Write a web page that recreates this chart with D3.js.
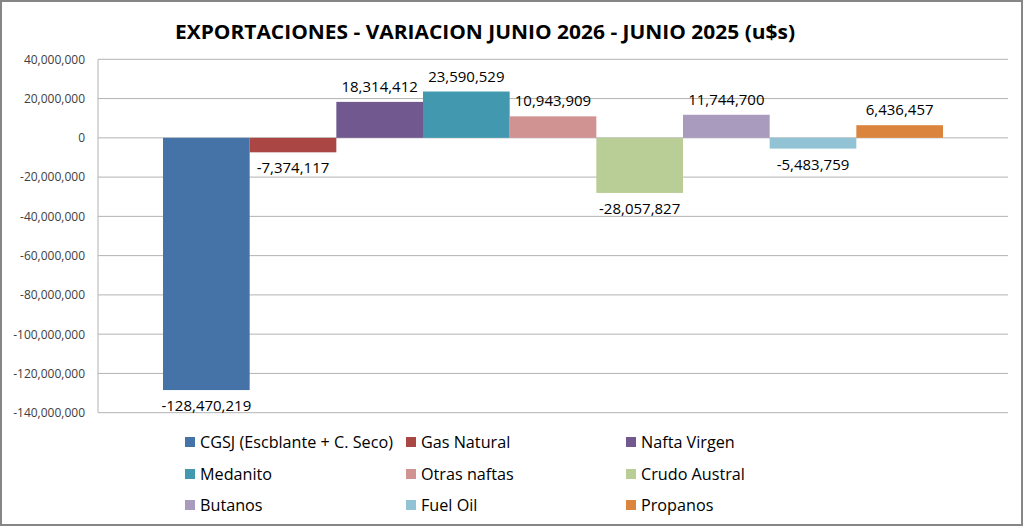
<!DOCTYPE html>
<html>
<head>
<meta charset="utf-8">
<script src="https://cdn.jsdelivr.net/npm/d3@7"></script>
<style>
  body { margin: 0; background: #fff; }
  text { font-family: "Open Sans", sans-serif; }
</style>
</head>
<body>
<div id="chart"></div>
<script>
const categories = ['CGSJ (Escblante + C. Seco)', 'Gas Natural', 'Nafta Virgen', 'Medanito',
  'Otras naftas', 'Crudo Austral', 'Butanos', 'Fuel Oil', 'Propanos'];
const values = [-128470219, -7374117, 18314412, 23590529, 10943909, -28057827, 11744700, -5483759, 6436457];
const colors = ['#4572A7', '#AA4643', '#71588F', '#4198AF', '#D19392', '#B9CD96', '#A99BBD', '#92C3D5', '#DB843D'];
const yTicks = [40000000, 20000000, 0, -20000000, -40000000, -60000000, -80000000, -100000000, -120000000, -140000000];

const width = 1024;
const height = 527;
const margin = { left: 98, right: 16, top: 59.3, bottom: 114.3 };

const fmt = d3.formatLocale({ decimal: '.', thousands: ',', grouping: [3], currency: ['$', ''], minus: '-' }).format(',');

var svg = d3.select('#chart')
  .append('svg')
  .attr('width', width)
  .attr('height', height);

// outer frame
svg.append('rect')
  .attr('x', 1).attr('y', 1)
  .attr('width', width - 3).attr('height', height - 3)
  .attr('fill', '#fff')
  .attr('stroke', '#868686')
  .attr('stroke-width', 2);

// Title
svg.append('text')
  .attr('x', 485)
  .attr('y', 39)
  .attr('text-anchor', 'middle')
  .attr('font-size', '20px')
  .attr('font-weight', 'bold')
  .attr('textLength', 620)
  .attr('lengthAdjust', 'spacingAndGlyphs')
  .attr('fill', '#000')
  .text('EXPORTACIONES - VARIACION JUNIO 2026 - JUNIO 2025 (u$s)');

// Scales
var scaleX = d3.scaleBand()
  .domain(categories)
  .range([margin.left, width - margin.right])
  .paddingInner(0)
  .paddingOuter(0.75);

var scaleY = d3.scaleLinear()
  .domain([-140000000, 40000000])
  .range([height - margin.bottom, margin.top]);

// Gridlines
svg.append('g')
  .selectAll('line')
  .data(yTicks)
  .enter()
  .append('line')
  .attr('x1', margin.left)
  .attr('x2', width - margin.right)
  .attr('y1', function (d) { return scaleY(d); })
  .attr('y2', function (d) { return scaleY(d); })
  .attr('stroke', '#b3b3b3')
  .attr('stroke-width', 1);

// left axis line
svg.append('line')
  .attr('x1', margin.left).attr('x2', margin.left)
  .attr('y1', scaleY(40000000)).attr('y2', scaleY(-140000000))
  .attr('stroke', '#b3b3b3');

// Y axis labels
var axisY = d3.axisLeft(scaleY)
  .tickValues(yTicks)
  .tickFormat(fmt)
  .tickSize(0)
  .tickPadding(13);

var gy = svg.append('g')
  .attr('transform', 'translate(' + margin.left + ',0)')
  .call(axisY);
gy.select('.domain').remove();
gy.selectAll('text')
  .attr('font-family', '"Open Sans", sans-serif')
  .attr('font-size', '12px')
  .attr('fill', '#404040');

// Bars
svg.append('g')
  .selectAll('rect')
  .data(values)
  .enter()
  .append('rect')
  .attr('x', function (d, i) { return scaleX(categories[i]); })
  .attr('y', function (d) { return scaleY(Math.max(0, d)); })
  .attr('width', scaleX.bandwidth())
  .attr('height', function (d) { return Math.abs(scaleY(d) - scaleY(0)); })
  .attr('fill', function (d, i) { return colors[i]; });

// Value labels
svg.append('g')
  .selectAll('text')
  .data(values)
  .enter()
  .append('text')
  .text(function (d) { return fmt(d); })
  .attr('x', function (d, i) { return scaleX(categories[i]) + scaleX.bandwidth() / 2; })
  .attr('y', function (d) { return d >= 0 ? scaleY(d) - 10 : scaleY(d) + 21; })
  .attr('text-anchor', 'middle')
  .attr('font-size', '15px')
  .attr('fill', '#000');

// Legend
var legendCols = [185, 406, 626];
var legendRows = [442, 474, 505];

var legend = svg.append('g')
  .selectAll('g')
  .data(categories)
  .enter()
  .append('g')
  .attr('transform', function (d, i) {
    return 'translate(' + legendCols[i % 3] + ',' + legendRows[Math.floor(i / 3)] + ')';
  });

legend.append('rect')
  .attr('x', 0)
  .attr('y', -5)
  .attr('width', 10)
  .attr('height', 10)
  .attr('fill', function (d, i) { return colors[i]; });

legend.append('text')
  .attr('x', 15)
  .attr('y', 0)
  .attr('dy', '0.35em')
  .attr('font-size', '16.2px')
  .attr('fill', '#000')
  .text(function (d) { return d; });
</script>
</body>
</html>
